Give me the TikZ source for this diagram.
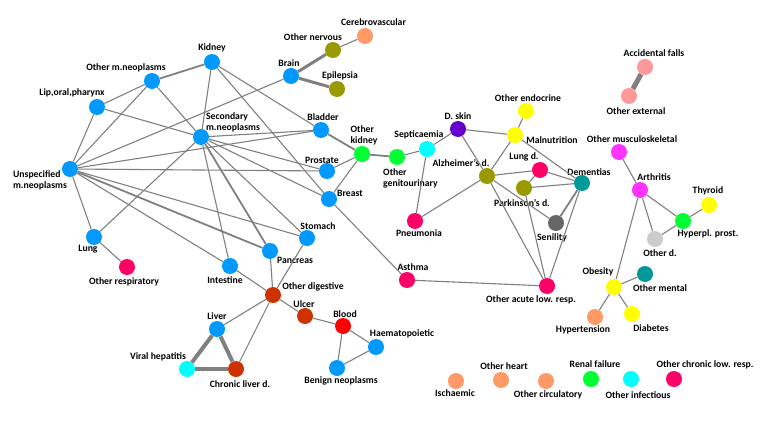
\documentclass[tikz,border=0pt]{standalone}
\usepackage{fontspec}
\setmainfont{Carlito}
\usepackage{tikz}
\usepackage{xcolor}

\definecolor{cblue}{RGB}{0,153,255}
\definecolor{colive}{RGB}{153,153,0}
\definecolor{corange}{RGB}{255,153,102}
\definecolor{cgreen}{RGB}{0,255,51}
\definecolor{ccyan}{RGB}{0,255,255}
\definecolor{cpink}{RGB}{255,0,102}
\definecolor{cpurple}{RGB}{102,0,204}
\definecolor{cyellow}{RGB}{255,255,0}
\definecolor{cteal}{RGB}{0,153,153}
\definecolor{cdgray}{RGB}{102,102,102}
\definecolor{clgray}{RGB}{204,204,204}
\definecolor{cmagenta}{RGB}{255,51,255}
\definecolor{crust}{RGB}{204,51,0}
\definecolor{cred}{RGB}{255,0,0}
\definecolor{csalmon}{RGB}{255,153,153}
\definecolor{cedge}{RGB}{128,128,128}

\begin{document}
\begin{tikzpicture}[x=1pt, y=-1pt,
  dot/.style={circle, minimum size=16pt, inner sep=0pt, draw=none},
  lbl/.style={align=left, inner sep=0pt, font=\fontsize{9.7}{11}\selectfont\bfseries},
  edge/.style={draw=cedge, line width=1.1pt},
  edgemid/.style={draw=cedge, line width=1.8pt},
  edgethick/.style={draw=cedge, line width=3pt},
  edgeheavy/.style={draw=cedge, line width=4pt},
  edgeheavier/.style={draw=cedge, line width=5pt}]
  \useasboundingbox (0,0) rectangle (776,436);

  % diseases: name/x/y/colour/label x/label y/label
  \foreach \n/\x/\y/\c/\lx/\ly/\t in {
    kidney/212/62/cblue/212/48/{Kidney},
    othneo/152/81/cblue/126/68/{Other m.neoplasms},
    lip/97/107/cblue/72/93/{Lip,oral,pharynx},
    unspec/70/169/cblue/40/180/{Unspecified\\m.neoplasms},
    second/201/137/cblue/233/122.5/{Secondary\\m.neoplasms},
    brain/291/76/cblue/289/63/{Brain},
    othnerv/333/50/colive/313/37/{Other nervous},
    cerebro/365/36/corange/373.5/22/{Cerebrovascular},
    epil/337/89/colive/340/76/{Epilepsia},
    bladder/321/130/cblue/323/117/{Bladder},
    othkid/362/154/cgreen/364/135/{Other\\kidney},
    prostate/327/171/cblue/322/160/{Prostate},
    breast/329/199/cblue/350/193/{Breast},
    othgen/397/157/cgreen/410.5/178/{Other\\genitourinary},
    septic/427/149/ccyan/419/135/{Septicaemia},
    dskin/458/129/cpurple/458/116/{D. skin},
    othendo/526/111/cyellow/528/98/{Other endocrine},
    malnut/515/135/cyellow/552/140/{Malnutrition},
    alzh/487/176/colive/461/163/{Alzheimer's d.},
    lungd/540/170/cpink/524/157/{Lung d.},
    parkin/524/188/colive/522/203/{Parkinson's d.},
    dement/582/183/cteal/589/172/{Dementias},
    senil/556/223/cdgray/552/238/{Senility},
    pneum/415/221/cpink/419/233/{Pneumonia},
    asthma/407/280/cpink/413/267/{Asthma},
    othacute/547/286/cpink/531/300/{Other acute low. resp.},
    othmusc/619/152/cmagenta/632/139/{Other musculoskeletal},
    arthr/640/190/cmagenta/654/177/{Arthritis},
    thyroid/709/205/cyellow/708/191/{Thyroid},
    hyperpl/683/221/cgreen/708/234/{Hyperpl. prost.},
    othd/655/239/clgray/660/253/{Other d.},
    obesity/614/287/cyellow/598/272/{Obesity},
    othment/645/274/cteal/660/288/{Other mental},
    hypert/595/317/corange/583/330/{Hypertension},
    diab/632/314/cyellow/651/328/{Diabetes},
    accid/645/67/csalmon/654/53/{Accidental falls},
    othext/629/96/csalmon/636/111/{Other external},
    lung/94/237/cblue/88/249/{Lung},
    othresp/127/267/cpink/124/282/{Other respiratory},
    stomach/307/238/cblue/318/226/{Stomach},
    pancr/270/251/cblue/295/260/{Pancreas},
    intest/230/266/cblue/225/280/{Intestine},
    othdig/273/295/crust/313/287/{Other digestive},
    ulcer/305/316/crust/304/304/{Ulcer},
    blood/343/326/cred/345/314/{Blood},
    haemat/376/347/cblue/402/334/{Haematopoietic},
    benign/337/368/cblue/341/381/{Benign neoplasms},
    liver/217/329/cblue/217/316/{Liver},
    viral/187/369/ccyan/158/357/{Viral hepatitis},
    chronliv/236/369/crust/240/384/{Chronic liver d.},
    ischaem/456/381/corange/455/393/{Ischaemic},
    othheart/501/380/corange/504/366/{Other heart},
    othcirc/546/381/corange/548/395/{Other circulatory},
    renal/591/379/cgreen/595/364/{Renal failure},
    othinf/631/379/ccyan/638/395/{Other infectious},
    othchron/674/379/cpink/705/365/{Other chronic low. resp.}}
  {
    \node[dot, fill=\c] (\n) at (\x,\y) {};
    \node[lbl] (\n-l) at (\lx,\ly) {\t};
  }

  % links
  \foreach \a/\b in {othneo/lip, othneo/unspec, othneo/second, lip/unspec, lip/second,
    kidney/second, kidney/bladder, kidney/breast, unspec/brain, unspec/bladder,
    unspec/prostate, unspec/stomach, unspec/intest, unspec/lung, second/bladder,
    second/prostate, second/breast, second/stomach, second/intest, second/lung,
    lung/othresp, prostate/othkid, breast/othkid, breast/asthma, othgen/septic,
    septic/dskin, septic/pneum, dskin/malnut, dskin/alzh, othendo/malnut, malnut/alzh,
    malnut/dement, alzh/lungd, alzh/pneum, alzh/senil, alzh/othacute, lungd/parkin,
    lungd/dement, parkin/dement, parkin/othacute, dement/othacute, asthma/othacute,
    othnerv/cerebro, othmusc/arthr, arthr/hyperpl, arthr/othd, arthr/obesity,
    hyperpl/thyroid, hyperpl/othd, obesity/othment, obesity/hypert, obesity/diab,
    pancr/othdig, stomach/othdig, intest/othdig, othdig/liver, othdig/chronliv,
    othdig/ulcer, ulcer/blood, blood/haemat, blood/benign, haemat/benign}
    \draw[edge] (\a) -- (\b);
  \foreach \a/\b in {kidney/othneo, unspec/pancr, second/pancr, bladder/othkid,
    dement/senil, othkid/othgen}
    \draw[edgemid] (\a) -- (\b);
  \foreach \a/\b in {brain/othnerv, brain/epil}
    \draw[edgethick] (\a) -- (\b);
  \foreach \a/\b in {liver/viral, liver/chronliv, viral/chronliv}
    \draw[edgeheavy] (\a) -- (\b);
  \draw[edgeheavier] (accid) -- (othext);
\end{tikzpicture}
\end{document}
